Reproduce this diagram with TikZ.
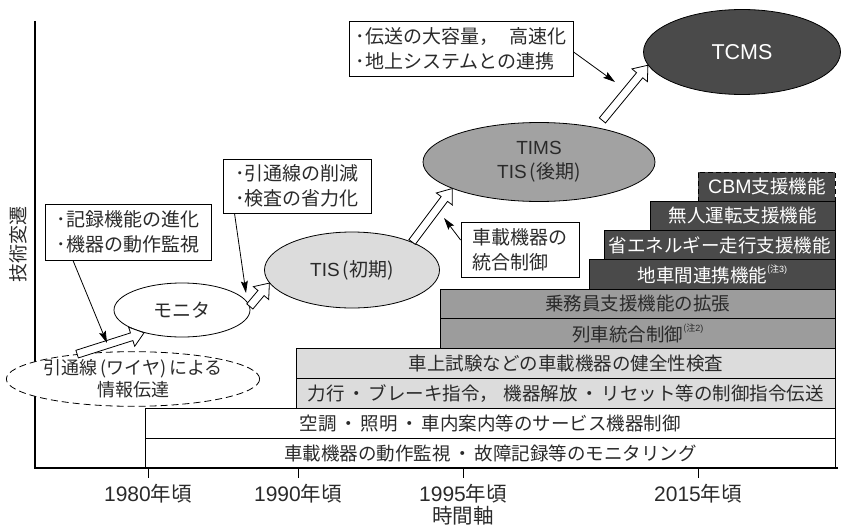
\documentclass[tikz,border=0pt]{standalone}
\usepackage{fontspec}
\setmainfont{Noto Sans CJK JP}
\newfontfamily\lat{Liberation Sans}
\usetikzlibrary{calc,shapes.geometric,arrows.meta}
\definecolor{txt}{HTML}{2A2A2A}
\definecolor{lightg}{HTML}{DCDCDC}
\definecolor{midg}{HTML}{9C9C9C}
\definecolor{darkg}{HTML}{4A4A4A}
\definecolor{timsg}{HTML}{A2A2A2}
\newcommand\blockarr[2]{%
  \path[draw=black, fill=white, line width=0.8pt, line join=miter]
    let \p1=(#1), \p2=(#2), \n1={atan2(\y2-\y1,\x2-\x1)} in
    ($(\p1)+(\n1+90:4pt)$)
    -- ($(\p2)+(\n1+180:13pt)+(\n1+90:4pt)$)
    -- ($(\p2)+(\n1+180:13pt)+(\n1+90:10pt)$)
    -- (\p2)
    -- ($(\p2)+(\n1+180:13pt)+(\n1-90:10pt)$)
    -- ($(\p2)+(\n1+180:13pt)+(\n1-90:4pt)$)
    -- ($(\p1)+(\n1-90:4pt)$) -- cycle;}
\newcommand\note[1]{\raisebox{0.55em}{\fontsize{9}{9}\selectfont (注\lat #1)}}
\newcommand\dotsep{\hspace{0.15em}・\hspace{0.15em}}
\tikzset{
  bar/.style={draw=black, line width=0.8pt, anchor=north west, inner sep=0pt,
    text=txt, font=\fontsize{18.5}{22}\selectfont},
  lightbar/.style={bar, fill=lightg},
  midbar/.style={bar, fill=midg},
  darkbar/.style={bar, fill=darkg, text=white},
  tbox/.style={draw=black, line width=0.8pt, fill=white, inner sep=0pt, align=left,
    text=txt, font=\fontsize{19}{25}\selectfont},
  ell/.style={ellipse, draw=black, line width=0.8pt, inner sep=0pt, align=center,
    text=txt, font=\fontsize{19}{24}\selectfont},
  thinarr/.style={line width=0.8pt, -{Stealth[length=12pt, width=7pt, inset=2pt]}},
  axis/.style={line width=1.1pt},
  lbl/.style={text=txt, font=\fontsize{20.5}{22}\selectfont}
}
\begin{document}
\begin{tikzpicture}[x=1pt, y=-1pt]
\useasboundingbox (0,0) rectangle (845,527);
% axes
\coordinate (o) at (35,468);
\coordinate (top) at (35,21);
\coordinate (right) at (838,468);
\draw[axis] (top) -- (o) -- (right);
\foreach \x/\yr in {148/1980, 298/1990, 463/1995, 698/2015}{
  \coordinate (t\yr) at (\x,468);
  \draw[line width=0.8pt] (t\yr) -- ++(0,10);
  \node[lbl] (y\yr) at (\x,494) {{\lat\fontsize{21}{22}\selectfont \yr}年頃};
}
\node[lbl] (tax) at (463,516) {時間軸};
\node[lbl, rotate=90, font=\fontsize{19}{22}\selectfont] (vax) at (18,244) {技術変遷};
% bars
\node[bar, minimum width=690pt, minimum height=30pt] (b1) at (145,438) {車載機器の動作監視\dotsep 故障記録等のモニタリング};
\node[bar, minimum width=690pt, minimum height=30pt] (b2) at (145,408) {空調\dotsep 照明\dotsep 車内案内等のサービス機器制御};
\node[lightbar, minimum width=539pt, minimum height=30pt] (b3) at (296,378) {力行\dotsep ブレーキ指令，\hspace{0.3em}機器解放\dotsep リセット等の制御指令伝送};
\node[lightbar, minimum width=539pt, minimum height=30pt] (b4) at (296,348) {車上試験などの車載機器の健全性検査};
\node[midbar, minimum width=395pt, minimum height=30pt] (b5) at (440,318) {列車統合制御\note{2}};
\node[midbar, minimum width=395pt, minimum height=29pt] (b6) at (440,289) {乗務員支援機能の拡張};
\node[darkbar, minimum width=246pt, minimum height=30pt] (b7) at (589,259) {地車間連携機能\note{3}};
\node[darkbar, minimum width=231pt, minimum height=29pt] (b8) at (604,230) {省エネルギー走行支援機能};
\node[darkbar, minimum width=185pt, minimum height=29pt] (b9) at (650,201) {無人運転支援機能};
\node[darkbar, dashed, dash pattern=on 5pt off 3pt, minimum width=137pt, minimum height=29pt] (b10) at (698,172) {{\lat\fontsize{19.5}{22}\selectfont CBM}支援機能};
% ellipses
\node[ell, dashed, dash pattern=on 7pt off 4pt, fill=white, minimum width=247pt, minimum height=48pt,
  font=\fontsize{18}{22}\selectfont] (wire) at (133,379) {引通線\,(ワイヤ)\,による\\情報伝達};
\node[ell, fill=white, minimum width=136pt, minimum height=54pt] (mon) at (182,310) {モニタ};
\node[ell, fill=lightg, minimum width=175pt, minimum height=76pt] (tis) at (352,270) {{\lat TIS}\,(初期)};
\node[ell, fill=timsg, minimum width=232pt, minimum height=79pt] (tims) at (539,162) {{\lat TIMS}\\{\lat TIS}\,(後期)};
\node[ell, fill=darkg, text=white, minimum width=197pt, minimum height=85pt,
  font=\fontsize{21.5}{24}\selectfont\lat] (tcms) at (742,52) {TCMS};
% block arrows
\blockarr{wire.156}{mon.211}
\blockarr{mon.3}{tis.189}
\blockarr{tis.25}{tims.197}
\blockarr{$(tims.31)!9pt!(tcms.188)$}{tcms.188}
% text boxes
\node[tbox, minimum width=166pt, minimum height=56pt] (box1) at (128,232) {･記録機能の進化\\･機器の動作監視};
\node[tbox, minimum width=148pt, minimum height=54pt] (box2) at (297,186) {･引通線の削減\\･検査の省力化};
\node[tbox, minimum width=224pt, minimum height=55pt] (box3) at (461,48.5) {･伝送の大容量，\hspace{0.6em}高速化\\･地上システムとの連携};
\node[tbox, minimum width=118pt, minimum height=55pt] (box4) at (520,249.5) {車載機器の\\統合制御};
% thin arrows
\coordinate (p1) at (107,343);
\coordinate (p2) at (246,293);
\coordinate (p3) at (444,218);
\coordinate (p4) at (615,82);
\draw[thinarr] ($(box1.south west)!0.17!(box1.south east)$) -- (p1);
\draw[thinarr] ($(box2.south west)!0.08!(box2.south east)$) -- (p2);
\draw[thinarr] ($(box4.north west)!0.33!(box4.south west)$) -- (p3);
\draw[thinarr] ($(box3.north east)!0.56!(box3.south east)$) -- (p4);
\end{tikzpicture}
\end{document}
